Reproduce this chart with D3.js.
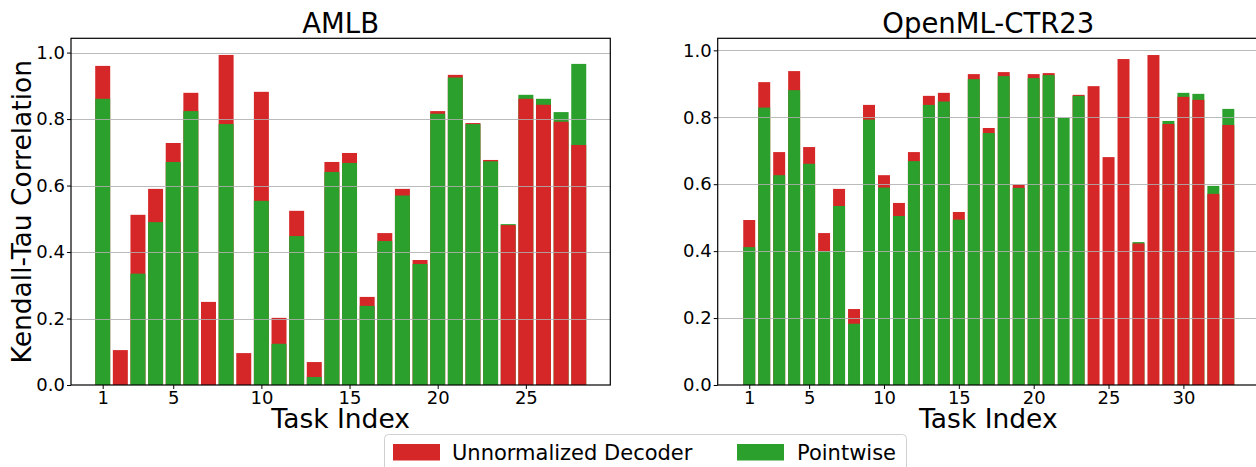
<!DOCTYPE html>
<html>
<head>
<meta charset="utf-8">
<script src="https://cdn.jsdelivr.net/npm/d3@7"></script>
<style>
  html, body { margin: 0; padding: 0; background: #fff; }
  svg { display: block; font-family: "DejaVu Sans", sans-serif; }
</style>
</head>
<body>
<svg id="chart" width="1256" height="467"></svg>
<script>
// ---- Data ----
const seriesNames = ["Unnormalized Decoder", "Pointwise"];
const seriesColors = ["#d62728", "#2ca02c"];

const amlbTasks = d3.range(1, 29);
const amlbDecoder = [0.960, 0.105, 0.512, 0.590, 0.728, 0.879, 0.250, 0.993, 0.096, 0.882,
                     0.202, 0.524, 0.069, 0.671, 0.698, 0.265, 0.457, 0.590, 0.376, 0.824,
                     0.933, 0.788, 0.677, 0.481, 0.861, 0.843, 0.792, 0.722];
const amlbPointwise = [0.861, null, 0.335, 0.490, 0.671, 0.824, null, 0.785, null, 0.554,
                       0.124, 0.448, 0.024, 0.641, 0.668, 0.238, 0.433, 0.570, 0.364, 0.816,
                       0.925, 0.785, 0.673, 0.484, 0.873, 0.861, 0.821, 0.966];

const ctrTasks = d3.range(1, 34);
const ctrDecoder = [0.493, 0.905, 0.696, 0.938, 0.711, 0.454, 0.586, 0.227, 0.837, 0.627,
                    0.544, 0.696, 0.864, 0.873, 0.517, 0.929, 0.768, 0.935, 0.598, 0.929,
                    0.932, null, 0.867, 0.893, 0.681, 0.974, 0.423, 0.986, 0.780, 0.861,
                    0.852, 0.571, 0.777];
const ctrPointwise = [0.412, 0.829, 0.627, 0.881, 0.661, 0.400, 0.535, 0.183, 0.793, 0.590,
                      0.505, 0.669, 0.837, 0.847, 0.494, 0.914, 0.753, 0.923, 0.589, 0.917,
                      0.926, 0.798, 0.864, null, null, null, 0.427, null, 0.789, 0.873,
                      0.870, 0.595, 0.825];

const amlbXTicks = [1, 5, 10, 15, 20, 25];
const ctrXTicks = [1, 5, 10, 15, 20, 25, 30];
const yTicks = [0, 0.2, 0.4, 0.6, 0.8, 1.0];

// ---- Drawing ----
const svg = d3.select("#chart");

const panels = [
  {title: "AMLB", tasks: amlbTasks, dec: amlbDecoder, pw: amlbPointwise, ticks: amlbXTicks,
   left: 71, right: 610.3, xdom: [-0.798, 29.79], ymax: 1.043, barFrac: 0.85, showYLabel: true},
  {title: "OpenML-CTR23", tasks: ctrTasks, dec: ctrDecoder, pw: ctrPointwise, ticks: ctrXTicks,
   left: 717.7, right: 1259, xdom: [-1.107, 35.05], ymax: 1.036, barFrac: 0.80, showYLabel: false}
];

const plotTop = 38.3, plotBottom = 385;

panels.forEach(p => {
  const x = d3.scaleLinear().domain(p.xdom).range([p.left, p.right]);
  const y = d3.scaleLinear().domain([0, p.ymax]).range([plotBottom, plotTop]);
  const g = svg.append("g");
  const clipId = "clip-" + p.title.replace(/[^a-z]/gi, "");
  svg.append("clipPath").attr("id", clipId).append("rect")
    .attr("x", p.left).attr("y", plotTop).attr("width", p.right - p.left).attr("height", plotBottom - plotTop);

  const plot = g.append("g").attr("clip-path", `url(#${clipId})`);
  const bw = (x(2) - x(1)) * p.barFrac;

  // bars: larger value drawn behind, smaller in front
  p.tasks.forEach((t, i) => {
    const items = [
      {v: p.dec[i], c: seriesColors[0], k: 0},
      {v: p.pw[i], c: seriesColors[1], k: 1}
    ].filter(d => d.v != null);
    items.sort((a, b) => (b.v - a.v) || (a.k - b.k));
    plot.selectAll(null).data(items).enter().append("rect")
      .attr("x", x(t) - bw / 2)
      .attr("width", bw)
      .attr("y", d => y(d.v))
      .attr("height", d => y(0) - y(d.v))
      .attr("fill", d => d.c);
  });

  // grid lines (over bars, like matplotlib default)
  plot.selectAll(null).data(yTicks).enter().append("line")
    .attr("x1", p.left).attr("x2", p.right)
    .attr("y1", d => Math.round(y(d)) + 0.5).attr("y2", d => Math.round(y(d)) + 0.5)
    .attr("stroke", "#b0b0b0").attr("stroke-width", 1).attr("opacity", 0.85);

  // frame
  g.append("rect").attr("x", p.left).attr("y", plotTop)
    .attr("width", p.right - p.left).attr("height", plotBottom - plotTop)
    .attr("fill", "none").attr("stroke", "#000").attr("stroke-width", 1.2);

  // axes
  const xAxis = d3.axisBottom(x).tickValues(p.ticks).tickFormat(d3.format("d"))
    .tickSizeInner(4).tickSizeOuter(0).tickPadding(2);
  const xa = g.append("g").attr("transform", `translate(0,${plotBottom})`).call(xAxis);
  xa.select(".domain").remove();
  xa.selectAll("text").attr("font-size", 18).attr("fill", "#000")
    .attr("font-family", "DejaVu Sans");
  xa.selectAll("line").attr("stroke", "#000");

  const yAxis = d3.axisLeft(y).tickValues(yTicks).tickFormat(d3.format(".1f"))
    .tickSizeInner(4).tickSizeOuter(0).tickPadding(2);
  const ya = g.append("g").attr("transform", `translate(${p.left},0)`).call(yAxis);
  ya.select(".domain").remove();
  ya.selectAll("text").attr("font-size", 18).attr("fill", "#000")
    .attr("font-family", "DejaVu Sans");
  ya.selectAll("line").attr("stroke", "#000");

  // title
  g.append("text").attr("x", (p.left + p.right) / 2).attr("y", 33)
    .attr("text-anchor", "middle").attr("font-size", 27.5).text(p.title);

  // x label
  g.append("text").attr("x", (p.left + p.right) / 2).attr("y", 428)
    .attr("text-anchor", "middle").attr("font-size", 26.5).text("Task Index");

  if (p.showYLabel) {
    g.append("text")
      .attr("transform", `translate(31,${(plotTop + plotBottom) / 2}) rotate(-90)`)
      .attr("text-anchor", "middle").attr("font-size", 26.5)
      .text("Kendall-Tau Correlation");
  }
});

// legend
const lg = svg.append("g");
lg.append("rect").attr("x", 384.5).attr("y", 434.5).attr("width", 522).attr("height", 42)
  .attr("rx", 4).attr("fill", "#fff").attr("stroke", "#d0d0d0").attr("stroke-width", 1);
const legendItems = [
  {name: seriesNames[0], color: seriesColors[0], px: 393, tx: 452},
  {name: seriesNames[1], color: seriesColors[1], px: 737, tx: 797}
];
legendItems.forEach(it => {
  lg.append("rect").attr("x", it.px).attr("y", 444).attr("width", 47).attr("height", 16.5)
    .attr("fill", it.color);
  lg.append("text").attr("x", it.tx).attr("y", 460).attr("font-size", 21)
    .attr("fill", "#000").text(it.name);
});
</script>
</body>
</html>
